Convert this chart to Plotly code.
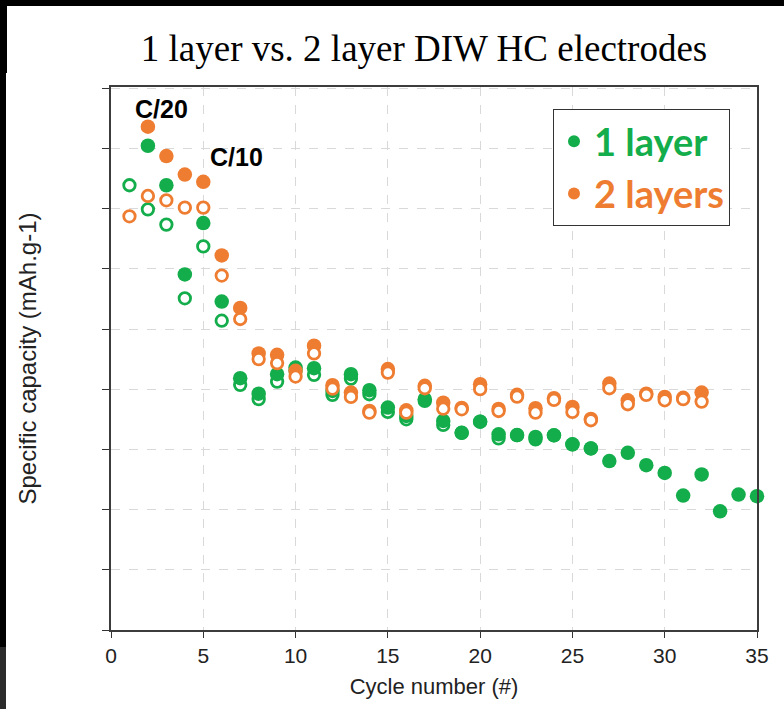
import plotly.graph_objects as go

# ---------------- data (capacity in arbitrary mAh/g scale) -------------
cycles_g_filled = list(range(2, 36))
green_filled = [402.2, 369.4, 295.3, 338.0, 272.8, 209.2, 196.3, 212.5, 218.0, 217.5,
                198.6, 212.5, 199.2, 184.7, 177.8, 191.7, 173.6, 163.8, 173.0, 162.5,
                161.9, 160.3, 161.7, 154.2, 150.8, 140.3, 147.2, 136.9, 130.5, 111.7,
                129.2, 98.6, 112.5, 111.1]

cycles_g_open = list(range(1, 27))
green_open = [369.4, 349.4, 336.7, 275.5, 318.6, 256.9, 203.6, 191.7, 206.3, 215.3,
              211.9, 195.3, 208.8, 195.8, 181.1, 175.0, 190.3, 170.3, 163.8, 173.0,
              159.2, 161.9, 158.3, 161.7, 154.2, 150.8]

cycles_o_filled = list(range(2, 33))
orange_filled = [418.0, 393.6, 378.3, 372.2, 311.1, 267.5, 229.7, 228.6, 215.3, 236.1,
                 203.3, 197.2, 181.9, 216.7, 182.5, 202.8, 188.8, 184.4, 204.2, 183.6,
                 195.3, 184.2, 192.5, 185.3, 175.3, 204.7, 190.8, 196.3, 193.6, 192.8,
                 197.2]

cycles_o_open = list(range(1, 33))
orange_open = [343.6, 360.5, 356.9, 350.8, 350.8, 294.4, 258.3, 225.0, 221.7, 210.5,
               229.7, 200.5, 193.6, 180.5, 213.8, 180.5, 200.8, 183.8, 183.3, 200.0,
               181.9, 193.8, 180.5, 191.1, 181.1, 174.2, 200.8, 187.5, 195.3, 190.8,
               191.7, 189.7]

x_ticks = [0, 5, 10, 15, 20, 25, 30, 35]
y_ticks = [0, 50, 100, 150, 200, 250, 300, 350, 400, 450]

GREEN = "#13AD4B"
ORANGE = "#EE7D31"

fig = go.Figure()

fig.add_trace(go.Scatter(
    x=cycles_g_open, y=green_open, mode="markers", showlegend=False, cliponaxis=False,
    marker=dict(symbol="circle", size=11.5, color="white", line=dict(color=GREEN, width=2.8))))
fig.add_trace(go.Scatter(
    x=cycles_g_filled, y=green_filled, mode="markers", cliponaxis=False,
    name="<b><span style='color:%s'>1 layer</span></b>" % GREEN, legendgroup="g1",
    marker=dict(symbol="circle", size=14.5, color=GREEN, line=dict(width=0))))
fig.add_trace(go.Scatter(
    x=cycles_o_filled, y=orange_filled, mode="markers", cliponaxis=False,
    name="<b><span style='color:%s'>2 layers</span></b>" % ORANGE, legendgroup="g2",
    marker=dict(symbol="circle", size=14.5, color=ORANGE, line=dict(width=0))))
fig.add_trace(go.Scatter(
    x=cycles_o_open, y=orange_open, mode="markers", showlegend=False, cliponaxis=False,
    marker=dict(symbol="circle", size=11.5, color="white", line=dict(color=ORANGE, width=2.8))))

# plot area geometry (pixels) for decorative screen-border shapes
L, R, T, B = 111, 757, 87, 630
W, H = 784, 709


def px(xp):
    return (xp - L) / (R - L)


def py(yp):
    return (B - yp) / (B - T)


shapes = [
    dict(type="rect", xref="paper", yref="paper", x0=px(0), x1=px(W), y0=py(0), y1=py(6),
         fillcolor="black", line=dict(width=0), layer="above"),
    dict(type="rect", xref="paper", yref="paper", x0=px(0), x1=px(7), y0=py(0), y1=py(73),
         fillcolor="black", line=dict(width=0), layer="above"),
    dict(type="rect", xref="paper", yref="paper", x0=px(0), x1=px(6), y0=py(73), y1=py(647),
         fillcolor="black", line=dict(width=0), layer="above"),
    dict(type="rect", xref="paper", yref="paper", x0=px(0), x1=px(6), y0=py(647), y1=py(H),
         fillcolor="#2b2b2b", line=dict(width=0), layer="above"),
]

annotations = [
    dict(x=2.74, y=433, xref="x", yref="y", text="<b>C/20</b>", showarrow=False,
         font=dict(family="Liberation Sans, Arial", size=25, color="black")),
    dict(x=6.8, y=393, xref="x", yref="y", text="<b>C/10</b>", showarrow=False,
         font=dict(family="Liberation Sans, Arial", size=25, color="black")),
]

fig.update_layout(
    width=W, height=H,
    margin=dict(l=L, r=W - R, t=T, b=H - B),
    paper_bgcolor="white", plot_bgcolor="white",
    title=dict(text="1 layer vs. 2 layer DIW HC electrodes",
               font=dict(family="Liberation Serif, Times New Roman", size=37, color="black"),
               x=424 / W, xanchor="center", y=1 - 48 / H, yanchor="middle", yref="container"),
    xaxis=dict(range=[0, 35], tickvals=x_ticks, ticks="outside", ticklen=6, tickwidth=1.2,
               tickcolor="#333", showline=True, linecolor="#3c3c3c", linewidth=1.5, mirror=True,
               showgrid=True, gridcolor="#d9d9d9", griddash="dash", gridwidth=1,
               zeroline=False,
               tickfont=dict(family="Liberation Sans, Arial", size=21, color="#222"),
               title=dict(text="Cycle number (#)", standoff=13,
                          font=dict(family="Liberation Sans, Arial", size=22, color="#222"))),
    yaxis=dict(range=[0, 451], tickvals=y_ticks, ticks="outside", ticklen=7, tickwidth=1.2,
               tickcolor="#333", showline=True, linecolor="#3c3c3c", linewidth=1.5, mirror=True,
               showgrid=True, gridcolor="#d9d9d9", griddash="dash", gridwidth=1,
               zeroline=False, showticklabels=False,
               title=dict(text="Specific capacity (mAh.g-1)", standoff=59,
                          font=dict(family="Liberation Sans, Arial", size=24, color="#222"))),
    legend=dict(x=px(553), y=py(109), xanchor="left", yanchor="top",
                bgcolor="white", bordercolor="#333", borderwidth=1,
                font=dict(family="Lato, Open Sans", size=38),
                tracegroupgap=0, itemsizing="constant"),
    shapes=shapes,
    annotations=annotations,
)

fig.write_html("out.html")
